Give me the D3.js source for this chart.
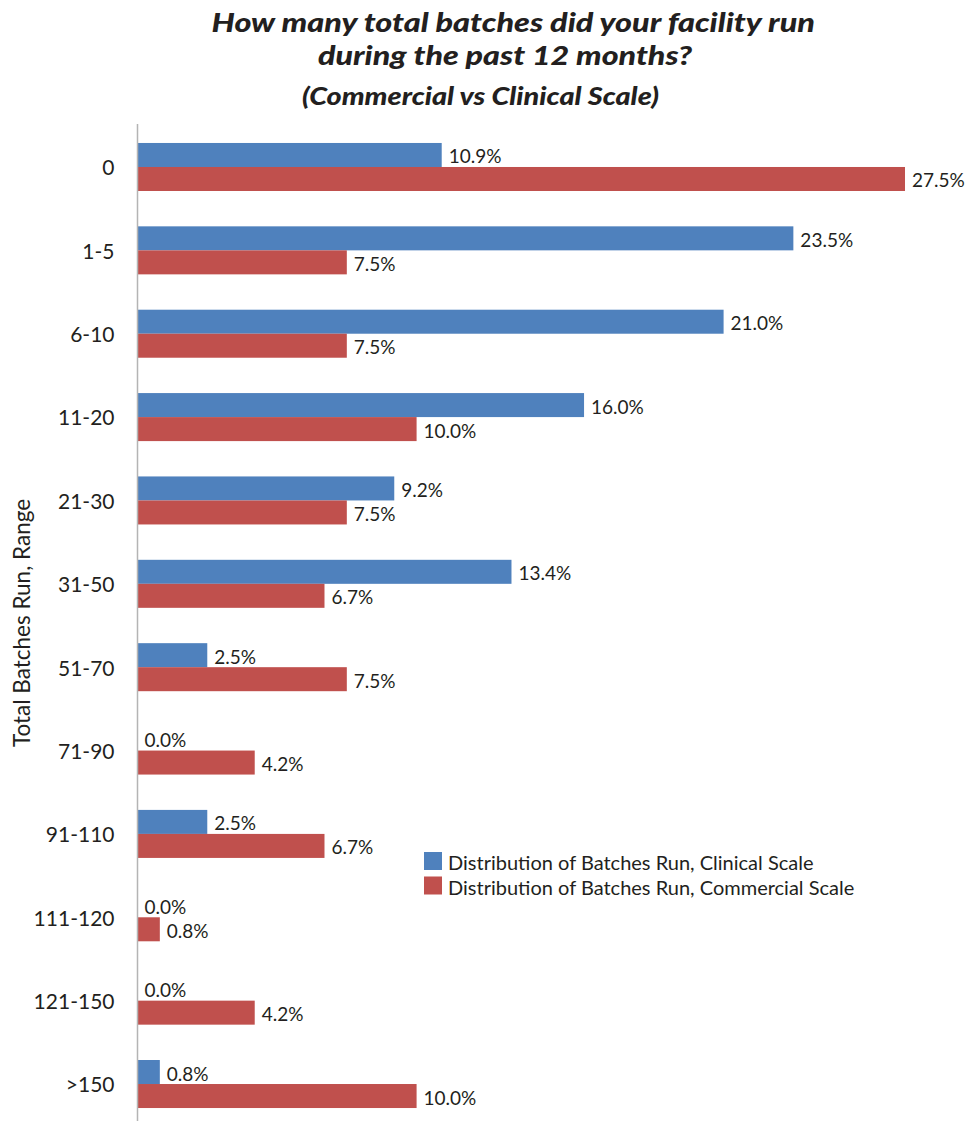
<!DOCTYPE html>
<html>
<head>
<meta charset="utf-8">
<script src="https://cdn.jsdelivr.net/npm/d3@7"></script>
<style>
  html, body { margin: 0; padding: 0; background: #ffffff; }
  svg { display: block; }
</style>
</head>
<body>
<svg id="chart" width="969" height="1121"></svg>
<script>
// Batch-count ranges, top to bottom
const categories = ["0", "1-5", "6-10", "11-20", "21-30", "31-50", "51-70", "71-90", "91-110", "111-120", "121-150", ">150"];
// Share of facilities (%) per range
const clinicalValues   = [10.9, 23.5, 21.0, 16.0, 9.2, 13.4, 2.5, 0.0, 2.5, 0.0, 0.0, 0.8];
const commercialValues = [27.5, 7.5, 7.5, 10.0, 7.5, 6.7, 7.5, 4.2, 6.7, 0.8, 4.2, 10.0];
const seriesNames = ["Distribution of Batches Run, Clinical Scale", "Distribution of Batches Run, Commercial Scale"];
const titleLines = ["How many total batches did your facility run", "during the past 12 months?"];
const subtitle = "(Commercial vs Clinical Scale)";
const axisTitle = "Total Batches Run, Range";

const colors = ["#4F81BD", "#C0504D"];
const textColor = "#231F20";
const bodyFont = "Lato, 'Open Sans', sans-serif";
const titleFont = "Lato, 'Open Sans', sans-serif";

const svg = d3.select("#chart");

const left = 137.5;
const x = d3.scaleLinear().domain([0, 27.5]).range([left, 905]);
const y = d3.scaleBand().domain(categories).range([125.3, 1125.7]).paddingInner(0.424).paddingOuter(0.212);
const sub = d3.scaleBand().domain([0, 1]).range([0, y.bandwidth()]);

const rows = categories.map((c, i) => ({ cat: c, vals: [clinicalValues[i], commercialValues[i]] }));

// Titles (condensed to the line widths)
const tl = [
  { text: titleLines[0], x: 211.5, w: 603.5, y: 32, size: 27 },
  { text: titleLines[1], x: 318, w: 374, y: 64.5, size: 27 },
  { text: subtitle, x: 302, w: 357, y: 105, size: 24 }
];
svg.selectAll("text.title").data(tl).join("text")
  .attr("class", "title")
  .attr("x", d => d.x)
  .attr("y", d => d.y)
  .attr("textLength", d => d.w)
  .attr("lengthAdjust", "spacingAndGlyphs")
  .attr("font-family", titleFont)
  .attr("font-weight", "900")
  .attr("font-style", "italic")
  .attr("font-size", d => d.size)
  .attr("fill", textColor)
  .text(d => d.text);

// Bars
const groups = svg.append("g").selectAll("g").data(rows).join("g")
  .attr("transform", d => `translate(0,${y(d.cat)})`);

groups.selectAll("rect").data(d => d.vals.map((v, k) => ({ v, k }))).join("rect")
  .attr("x", x(0))
  .attr("y", d => sub(d.k))
  .attr("width", d => x(d.v) - x(0))
  .attr("height", sub.bandwidth())
  .attr("fill", d => colors[d.k]);

// Value labels
groups.selectAll("text").data(d => d.vals.map((v, k) => ({ v, k }))).join("text")
  .attr("x", d => x(d.v) + 7)
  .attr("y", d => sub(d.k) + sub.bandwidth() / 2 + 1)
  .attr("dominant-baseline", "central")
  .attr("font-family", bodyFont)
  .attr("font-size", 19)
  .attr("fill", textColor)
  .text(d => d.v.toFixed(1) + "%");

// Category axis
const yAxis = d3.axisLeft(y).tickSize(0).tickPadding(23);
const ag = svg.append("g").attr("transform", `translate(${left},0)`).call(yAxis);
ag.select(".domain").remove();
ag.selectAll("text")
  .attr("font-family", bodyFont)
  .attr("font-size", 21)
  .attr("fill", textColor)
  .attr("dy", "0.4em");

svg.append("line")
  .attr("x1", left).attr("x2", left)
  .attr("y1", 124).attr("y2", 1121)
  .attr("stroke", "#b4b4b4")
  .attr("stroke-width", 1.5);

// Axis title
svg.append("text")
  .attr("transform", "translate(30,623) rotate(-90)")
  .attr("text-anchor", "middle")
  .attr("font-family", bodyFont)
  .attr("font-size", 22.5)
  .attr("fill", textColor)
  .text(axisTitle);

// Legend
const lg = svg.append("g").selectAll("g").data(seriesNames).join("g")
  .attr("transform", (d, i) => `translate(424,${852 + i * 24.5})`);
lg.append("rect").attr("width", 18).attr("height", 18).attr("fill", (d, i) => colors[i]);
lg.append("text")
  .attr("x", 24)
  .attr("y", 18)
  .attr("font-family", bodyFont)
  .attr("font-size", 20)
  .attr("fill", textColor)
  .text(d => d);
</script>
</body>
</html>
